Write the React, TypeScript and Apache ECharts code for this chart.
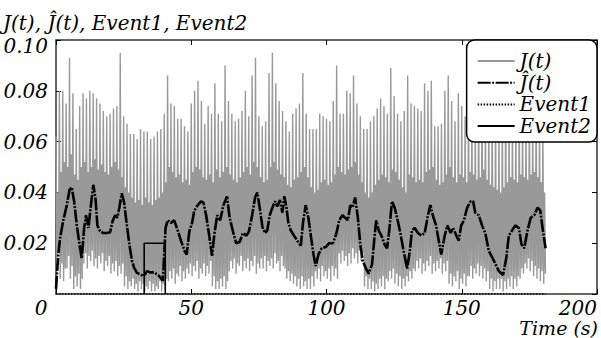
import React, { useEffect, useRef } from "react";
import * as echarts from "echarts";

// ---------- data ----------
// J(t): one spike cycle every 1.25 s, four samples per cycle (peak, low, band top, low), values in 1/1000
const CYCLE_S = 1.25;
const jPeakMilli = [
  62, 80, 80, 75, 93, 79, 65, 74, 79, 77,
  80, 79, 77, 75, 72, 70, 71, 73, 74, 95,
  70, 67, 63, 63, 61, 65, 64, 64, 61, 62,
  64, 65, 71, 86, 75, 74, 69, 69, 66, 64,
  75, 80, 84, 76, 67, 74, 71, 83, 71, 68,
  90, 76, 71, 68, 69, 72, 80, 70, 86, 93,
  70, 66, 68, 87, 95, 83, 76, 72, 68, 64,
  71, 73, 75, 87, 71, 65, 65, 65, 71, 70,
  69, 68, 76, 90, 71, 71, 80, 79, 86, 75,
  70, 65, 65, 68, 70, 73, 77, 74, 71, 89,
  78, 71, 68, 72, 86, 75, 74, 73, 72, 83,
  80, 84, 66, 66, 67, 80, 86, 76, 68, 79,
  74, 70, 78, 72, 68, 75, 80, 71, 69, 77,
  73, 66, 72, 78, 70, 74, 68, 76, 71, 67,
  73, 69, 75, 70, 64,
];
const jLowAMilli = [
  12, 6, 5, 10, 6, 2, 3, 2, 12, 10,
  13, 11, 10, 12, 9, 11, 8, 9, 7, 8,
  3, 2, 3, 2, 1, 2, 1, 2, 1, 1,
  2, 1, 2, 5, 6, 4, 7, 5, 6, 8,
  7, 9, 6, 8, 7, 8, 3, 2, 2, 3,
  2, 9, 10, 8, 11, 9, 10, 9, 11, 8,
  10, 10, 9, 11, 10, 12, 9, 11, 6, 5,
  4, 3, 2, 3, 2, 2, 3, 6, 5, 7,
  6, 5, 7, 6, 12, 13, 11, 12, 14, 12,
  13, 3, 2, 2, 1, 2, 3, 2, 5, 6,
  4, 3, 2, 3, 5, 6, 9, 10, 8, 9,
  11, 8, 9, 10, 8, 9, 4, 3, 5, 2,
  4, 3, 7, 6, 8, 7, 6, 5, 2, 1,
  2, 2, 1, 2, 3, 2, 3, 6, 8, 10,
  9, 7, 6, 5, 4,
];
const jMidMilli = [
  40, 48, 52, 50, 55, 47, 45, 50, 52, 48,
  50, 53, 49, 51, 48, 47, 50, 52, 49, 46,
  42, 40, 38, 36, 37, 35, 38, 36, 35, 37,
  38, 40, 44, 50, 48, 46, 47, 44, 45, 43,
  48, 50, 49, 46, 45, 47, 44, 49, 46, 48,
  50, 47, 45, 44, 46, 48, 50, 47, 52, 50,
  46, 44, 45, 50, 52, 49, 47, 46, 43, 42,
  45, 46, 48, 50, 46, 42, 40, 41, 44, 45,
  43, 44, 47, 50, 48, 47, 49, 50, 52, 47,
  44, 40, 38, 40, 43, 45, 47, 46, 44, 49,
  48, 45, 42, 40, 47, 46, 44, 45, 44, 48,
  49, 50, 45, 43, 44, 47, 50, 46, 44, 47,
  46, 44, 48, 47, 45, 46, 49, 45, 43, 42,
  41, 40, 42, 44, 46, 45, 44, 47, 46, 45,
  47, 48, 46, 44, 40,
];
const jLowBMilli = [
  16, 12, 10, 15, 11, 7, 8, 6, 16, 15,
  17, 14, 15, 16, 13, 15, 12, 13, 11, 12,
  7, 5, 6, 4, 5, 4, 3, 5, 4, 3,
  5, 4, 6, 9, 10, 8, 11, 9, 10, 12,
  11, 13, 10, 12, 11, 13, 7, 5, 6, 7,
  5, 13, 14, 12, 15, 13, 14, 13, 15, 12,
  14, 15, 13, 14, 16, 13, 15, 10, 9, 8,
  7, 6, 7, 5, 6, 7, 9, 10, 11, 9,
  10, 11, 10, 16, 17, 15, 16, 18, 16, 17,
  16, 7, 6, 5, 4, 6, 7, 6, 9, 10,
  8, 7, 6, 7, 9, 10, 13, 14, 12, 13,
  15, 12, 13, 14, 12, 13, 8, 7, 9, 6,
  8, 7, 11, 10, 12, 11, 10, 9, 6, 5,
  6, 6, 5, 6, 7, 6, 7, 10, 12, 14,
  13, 11, 10, 9, 8,
];

// Ĵ(t): smoothed estimate
const jHatTimes = [
  0, 0.85, 1.5, 2.7, 4.0, 5.0, 5.8, 6.7, 7.7, 8.7, 9.5, 10.4, 11.1, 12, 12.8, 13.8, 14.6, 15.3,
  16.3, 17.5, 18.8, 20, 21, 21.9, 22.7, 23.5, 24.3, 25.2, 26.2, 27.2, 28.1, 28.9, 29.9, 31.1,
  32.4, 33.6, 34.9, 36.4, 38.2, 39.5, 40.5, 41.3, 42.5, 43.7, 45, 46.2, 47.5, 48.3, 49.3, 50.3,
  51.1, 52.4, 53.6, 54.5, 55.5, 56.5, 57.7, 58.6, 59.6, 60.7, 61.9, 63.2, 64.2, 65.4, 66.6,
  67.9, 69.1, 70.4, 71.3, 72.5, 73.6, 74.4, 75.3, 76.3, 77.3, 78.1, 79, 80, 81, 81.8, 82.8,
  83.7, 84.4, 85.2, 85.9, 86.8, 88, 89.2, 90.5, 91.3, 92.3, 93.3, 94.2, 95.2, 96, 97, 98.2,
  99.7, 101, 102.4, 103.7, 104.7, 105.9, 106.9, 107.9, 108.8, 109.6, 110.6, 111.6, 112.5,
  113.4, 114.6, 115.6, 116.8, 117.8, 118.4, 119.3, 120.3, 121.5, 122.4, 123.2, 124.2, 125.2,
  126.1, 127.3, 128.5, 129.8, 130.8, 131.6, 132.6, 133.8, 135.1, 136.3, 137.5, 138.4, 139.3,
  140.5, 141.5, 142.4, 143.7, 144.7, 145.9, 146.8, 148, 148.9, 149.8, 150.8, 152, 153.3,
  154.2, 155, 156.3, 157.5, 158.7, 160, 161.2, 162.4, 163.7, 165.3, 166.5, 167.4, 168.6,
  169.8, 171.1, 172.1, 173.1, 174.3, 175.5, 176.8, 178, 179, 180, 181,
];
const jHatMilli = [
  2, 15.5, 22, 29, 35, 41, 42, 36.5, 27, 19.4, 14, 26, 31, 26, 34, 43, 37.5, 27,
  24.7, 24, 24, 24.3, 29, 31, 30, 34.5, 39.6, 36, 27, 19, 13, 10.3, 8.4, 7.7,
  7, 9, 8.5, 8.5, 7, 5.2, 26, 29, 28, 29, 25, 21, 17, 15.5, 24.7, 28,
  32.7, 35, 36.5, 36, 31, 24, 15, 24, 31, 29, 35, 38.4, 30, 24.7, 20,
  20.5, 24, 23, 24.5, 31, 38, 40, 34, 26.5, 24, 25, 31, 34, 36.5, 34.5, 37,
  32, 38.5, 34, 28, 25, 23, 21, 19, 28, 35, 30, 23, 15.5, 11, 15.5, 18,
  18.5, 20, 20, 24, 29, 31, 30, 29, 35, 34, 38, 30, 19.5,
  13, 10, 8, 11.5, 23, 29, 25, 23, 19.5, 18, 25, 36.5, 34,
  30, 24, 17, 10, 17, 25, 26, 24, 23, 24, 31, 35, 31,
  27, 21, 15.5, 23, 27, 24, 26, 23, 21, 27, 29, 34, 36.5,
  36.5, 32, 31, 27, 24, 17, 14.5, 12, 9, 7.5, 14.5, 23, 25,
  27, 26, 19.5, 18, 25, 30, 31, 34, 33, 25, 18,
];

// Event1 (stays at zero) and Event2 (pulse)
const event1Times = [0, 181];
const event1Values = [0, 0];
const event2Times = [32.6, 32.6, 40.4, 40.4];
const event2Values = [0, 0.02, 0.02, 0];

const seriesNames = ["J(t)", "Ĵ(t)", "Event1", "Event2"];
const titleText = "J(t), Ĵ(t), Event1, Event2";
const xName = "Time (s)";

export default function App() {
  const ref = useRef<HTMLDivElement>(null);

  useEffect(() => {
    if (!ref.current) return;
    const chart = echarts.init(ref.current, undefined, { renderer: "svg" });

    const jData: number[][] = [];
    jPeakMilli.forEach((p, k) => {
      const t0 = k * CYCLE_S;
      jData.push([t0, p / 1000]);
      jData.push([t0 + CYCLE_S / 4, jLowAMilli[k] / 1000]);
      jData.push([t0 + CYCLE_S / 2, jMidMilli[k] / 1000]);
      jData.push([t0 + (3 * CYCLE_S) / 4, jLowBMilli[k] / 1000]);
    });
    const jHatData = jHatTimes.map((t, i) => [t, jHatMilli[i] / 1000]);
    const e1Data = event1Times.map((t, i) => [t, event1Values[i]]);
    const e2Data = event2Times.map((t, i) => [t, event2Values[i]]);

    const font = {
      fontFamily: "DejaVu Serif",
      fontStyle: "italic",
      fontSize: 20,
      color: "#000",
    };
    const axisLineStyle = { color: "#333", width: 1.5 };

    chart.setOption({
      animation: false,
      backgroundColor: "#fff",
      title: [
        { text: titleText, left: 3, top: 13, padding: 0, textStyle: { ...font, fontWeight: "normal" } },
        {
          text: xName,
          right: 3,
          top: 319,
          padding: 0,
          textStyle: { ...font, fontSize: 19, lineHeight: 18, fontWeight: "normal" },
        },
      ],
      legend: {
        orient: "vertical",
        right: 4,
        top: 40,
        data: seriesNames,
        itemWidth: 37,
        itemHeight: 14,
        itemGap: 1.7,
        itemStyle: { opacity: 0 },
        padding: [11, 6, 6, 10],
        backgroundColor: "#fff",
        borderColor: "#000",
        borderWidth: 1.5,
        borderRadius: 8,
        textStyle: { ...font, lineHeight: 20 },
        z: 10,
      },
      grid: {
        left: 56,
        right: 4,
        top: 40,
        bottom: 44,
        containLabel: false,
        outerBoundsMode: "none",
      },
      xAxis: [
        {
          type: "value",
          min: 0,
          max: 200,
          interval: 50,
          axisLine: { show: true, onZero: false, lineStyle: axisLineStyle },
          axisTick: { show: true, inside: true, length: 5, lineStyle: { color: "#000" } },
          splitLine: { show: false },
          axisLabel: {
            margin: 5,
            alignMaxLabel: "right",
            formatter: (v: number) => (v === 0 ? "{l|0}" : "{n|" + v + "}"),
            rich: {
              l: { ...font, lineHeight: 17, padding: [0, 30, 0, 0] },
              n: { ...font, lineHeight: 17 },
            },
          },
        },
        {
          type: "value",
          position: "top",
          min: 0,
          max: 200,
          interval: 50,
          axisLine: { show: true, onZero: false, lineStyle: axisLineStyle },
          axisTick: { show: true, inside: true, length: 5, lineStyle: { color: "#000" } },
          splitLine: { show: false },
          axisLabel: { show: false },
        },
      ],
      yAxis: [
        {
          type: "value",
          min: 0,
          max: 0.1,
          interval: 0.02,
          axisLine: { show: true, onZero: false, lineStyle: axisLineStyle },
          axisTick: { show: true, inside: true, length: 5, lineStyle: { color: "#000" } },
          splitLine: { show: false },
          axisLabel: {
            showMinLabel: false,
            margin: 8,
            formatter: (v: number) =>
              Math.abs(v - 0.1) < 1e-9 ? "{t|" + v.toFixed(2) + "}" : "{n|" + v.toFixed(2) + "}",
            rich: {
              t: { ...font, padding: [12, 0, 0, 0] },
              n: { ...font },
            },
          },
        },
        {
          type: "value",
          position: "right",
          min: 0,
          max: 0.1,
          interval: 0.02,
          axisLine: { show: true, onZero: false, lineStyle: axisLineStyle },
          axisTick: { show: true, inside: true, length: 5, lineStyle: { color: "#000" } },
          splitLine: { show: false },
          axisLabel: { show: false },
        },
      ],
      series: [
        {
          name: seriesNames[0],
          type: "line",
          data: jData,
          symbol: "none",
          lineStyle: { color: "#999999", width: 1.4 },
          itemStyle: { color: "#999999" },
          z: 2,
        },
        {
          name: seriesNames[1],
          type: "line",
          data: jHatData,
          symbol: "none",
          lineStyle: { color: "#000", width: 2.6, type: [13, 1.5, 2, 1.5] },
          itemStyle: { color: "#000" },
          z: 3,
        },
        {
          name: seriesNames[2],
          type: "line",
          data: e1Data,
          symbol: "none",
          lineStyle: { color: "#000", width: 1.5, type: [1.5, 1.5] },
          itemStyle: { color: "#000" },
          z: 4,
        },
        {
          name: seriesNames[3],
          type: "line",
          data: e2Data,
          symbol: "none",
          lineStyle: { color: "#000", width: 1.6 },
          itemStyle: { color: "#000" },
          z: 5,
        },
      ],
    });

    return () => chart.dispose();
  }, []);

  return (
    <div
      ref={ref}
      style={{ position: "absolute", left: 0, top: 0, width: 601, height: 338 }}
    />
  );
}
